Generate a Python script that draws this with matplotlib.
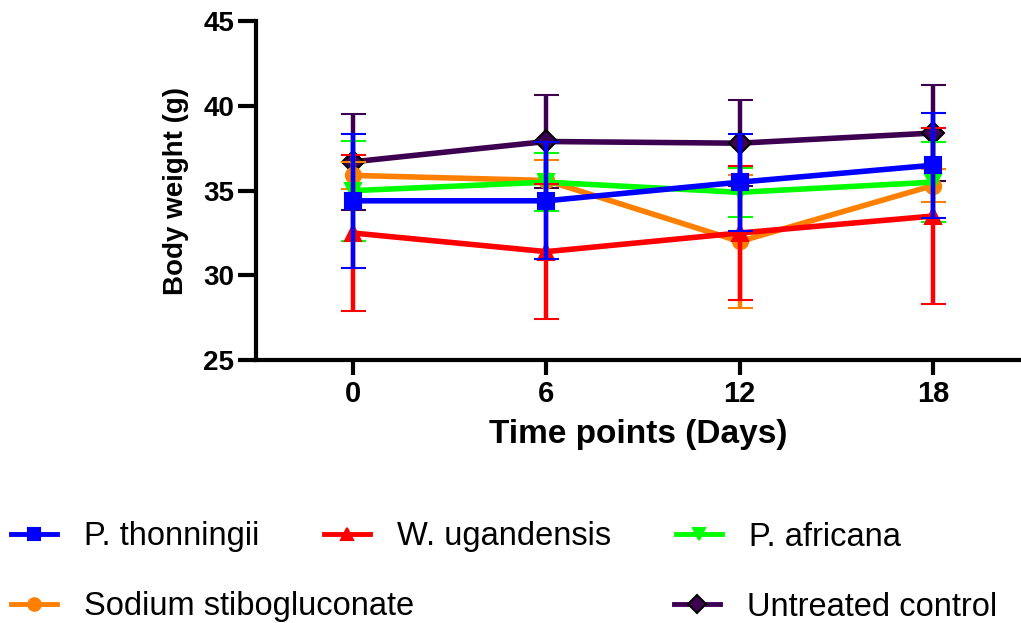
import matplotlib
matplotlib.use("Agg")
import matplotlib.pyplot as plt
from matplotlib.lines import Line2D

plt.rcParams['font.family'] = ['Liberation Sans', 'DejaVu Sans']

# Дані
days = [0, 6, 12, 18]
groups = ["P. thonningii", "W. ugandensis", "P. africana",
          "Sodium stibogluconate", "Untreated control"]
thonningii = [34.4, 34.4, 35.5, 36.5]
thonningii_sd = [3.95, 3.45, 2.86, 3.1]
ugandensis = [32.5, 31.4, 32.5, 33.5]
ugandensis_sd = [4.6, 4.0, 3.95, 5.2]
africana = [35.0, 35.5, 34.9, 35.5]
africana_sd = [2.95, 1.7, 1.45, 2.35]
ssg = [35.9, 35.6, 32.0, 35.3]
ssg_sd = [0.8, 1.2, 3.9, 1.0]
control = [36.7, 37.9, 37.8, 38.4]
control_sd = [2.85, 2.75, 2.55, 2.85]

colors = ['#0000ff', '#ff0000', '#00ff00', '#ff8000', '#3d0050']
markers = ['s', '^', 'v', 'o', 'D']
means = [thonningii, ugandensis, africana, ssg, control]
sds = [thonningii_sd, ugandensis_sd, africana_sd, ssg_sd, control_sd]
zorders = [6, 5, 4, 3, 2]

fig = plt.figure(figsize=(10.21, 6.23), dpi=100)
ax = fig.add_axes([0.251, 0.422, 0.748, 0.544])

for i in range(len(groups)):
    mec = 'black' if markers[i] == 'D' else colors[i]
    ax.errorbar(days, means[i], yerr=sds[i], color=colors[i], lw=4,
                marker=markers[i], ms=11, mfc=colors[i], mec=mec, mew=1.5,
                elinewidth=3.2, capsize=9, capthick=3, zorder=zorders[i])

ax.set_xlim(-3, 20.7)
ax.set_ylim(25, 45)
ax.set_xticks(days)
ax.set_yticks([25, 30, 35, 40, 45])
ax.spines['top'].set_visible(False)
ax.spines['right'].set_visible(False)
for s in ['left', 'bottom']:
    ax.spines[s].set_linewidth(3)
ax.tick_params(axis='y', length=13, width=3, labelsize=20, pad=3)
ax.tick_params(axis='x', length=11, width=3, labelsize=21, pad=3)
for lbl in ax.get_xticklabels() + ax.get_yticklabels():
    lbl.set_fontweight('bold')
ax.set_xlabel("Time points (Days)", fontsize=24, fontweight='bold', labelpad=8)
ax.set_ylabel("Body weight (g)", fontsize=20, fontweight='bold', labelpad=10)

# Легенда — кожен запис окремо
positions = [(11, 537), (324, 537), (676, 537), (11, 607), (674, 607)]
W, H = 1021, 623
for i in range(len(groups)):
    mec = 'black' if markers[i] == 'D' else colors[i]
    h = Line2D([], [], color=colors[i], lw=3.5, marker=markers[i], ms=9,
               mfc=colors[i], mec=mec, mew=1.5)
    x, y = positions[i]
    fig.legend(handles=[h], labels=[groups[i]], loc='center left',
               bbox_to_anchor=(x / W, 1 - y / H), frameon=False,
               fontsize=23.5, handlelength=1.4, handletextpad=0.85,
               borderpad=0, borderaxespad=0)

fig.savefig("out.png", dpi=100)
